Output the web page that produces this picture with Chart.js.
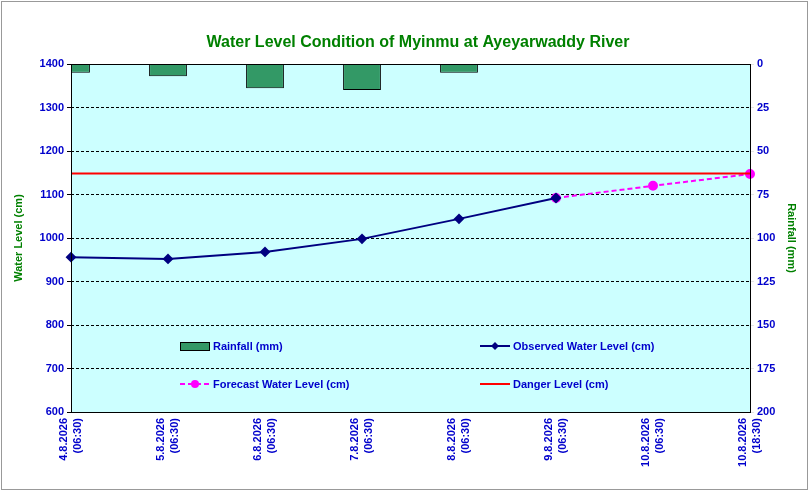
<!DOCTYPE html>
<html>
<head>
<meta charset="utf-8">
<script src="https://cdn.jsdelivr.net/npm/chart.js@4/dist/chart.umd.min.js"></script>
<style>
  html, body { margin: 0; padding: 0; background: #fff; }
  #wrap { width: 810px; height: 492px; }
</style>
</head>
<body>
<div id="wrap"><canvas id="chart"></canvas></div>
<script>
const dates = ["4.8.2026", "5.8.2026", "6.8.2026", "7.8.2026", "8.8.2026", "9.8.2026", "10.8.2026", "10.8.2026"];
const times = ["(06:30)", "(06:30)", "(06:30)", "(06:30)", "(06:30)", "(06:30)", "(06:30)", "(18:30)"];
const rainfall = [5, 7, 14, 15, 5, null, null, null];
const observed = [956, 952, 968, 998, 1044, 1092, null, null];
const forecast = [null, null, null, null, null, 1092, 1120, 1147];
const danger = [1148, 1148, 1148, 1148, 1148, 1148, 1148, 1148];

const blue = "#0000cc";
const green = "#008000";
const font = "Liberation Sans, Arial, sans-serif";

const decor = {
  id: "decor",
  beforeDraw(chart) {
    const c = chart.ctx, a = chart.chartArea;
    c.save();
    c.fillStyle = "#ccffff";
    c.fillRect(a.left, a.top, a.right - a.left, a.bottom - a.top);
    c.restore();
  },
  afterDraw(chart) {
    const c = chart.ctx, a = chart.chartArea;
    c.save();
    c.strokeStyle = "#000";
    c.lineWidth = 1;
    c.strokeRect(a.left + 0.5, a.top + 0.5, a.right - a.left, a.bottom - a.top);
    c.strokeStyle = "#999";
    c.strokeRect(1.5, 1.5, 806, 488);

    // title
    c.fillStyle = green;
    c.font = "bold 16px " + font;
    c.textAlign = "center";
    c.textBaseline = "middle";
    c.fillText("Water Level Condition of Myinmu at Ayeyarwaddy River", 418, 43);

    // axis titles
    c.font = "bold 11px " + font;
    c.save(); c.translate(19, 238); c.rotate(-Math.PI / 2); c.fillText("Water Level (cm)", 0, 0); c.restore();
    c.save(); c.translate(791, 238); c.rotate(Math.PI / 2); c.fillText("Rainfall (mm)", 0, 0); c.restore();

    // x labels
    const xs = chart.scales.x;
    c.fillStyle = blue;
    c.font = "bold 11px " + font;
    c.textAlign = "right";
    dates.forEach((d, i) => {
      const x = xs.getPixelForValue(i);
      c.save();
      c.translate(x, 418);
      c.rotate(-Math.PI / 2);
      c.fillText(d, 0, -7);
      c.fillText(times[i], 0, 7);
      c.restore();
    });

    // legend
    c.font = "bold 11px " + font;
    c.textAlign = "left";
    c.fillStyle = "#339966";
    c.fillRect(180, 342, 29, 8);
    c.strokeStyle = "#000";
    c.strokeRect(180.5, 342.5, 29, 8);
    c.fillStyle = blue;
    c.fillText("Rainfall (mm)", 213, 347);

    c.strokeStyle = "#000080"; c.lineWidth = 2;
    c.beginPath(); c.moveTo(480, 346); c.lineTo(510, 346); c.stroke();
    c.fillStyle = "#000080";
    c.beginPath(); c.moveTo(495, 342); c.lineTo(499, 346); c.lineTo(495, 350); c.lineTo(491, 346); c.closePath(); c.fill();
    c.fillStyle = blue;
    c.fillText("Observed Water Level (cm)", 513, 347);

    c.strokeStyle = "#ff00ff"; c.setLineDash([5, 3]);
    c.beginPath(); c.moveTo(180, 384); c.lineTo(209, 384); c.stroke();
    c.setLineDash([]);
    c.fillStyle = "#ff00ff";
    c.beginPath(); c.arc(195, 384, 4, 0, Math.PI * 2); c.fill();
    c.fillStyle = blue;
    c.fillText("Forecast Water Level (cm)", 213, 385);

    c.strokeStyle = "#ff0000";
    c.beginPath(); c.moveTo(480, 384); c.lineTo(510, 384); c.stroke();
    c.fillStyle = blue;
    c.fillText("Danger Level (cm)", 513, 385);
    c.restore();
  }
};

new Chart(document.getElementById("chart"), {
  type: "bar",
  data: {
    labels: dates.map((d, i) => d + " " + times[i]),
    datasets: [
      { type: "line", data: danger, borderColor: "#ff0000", borderWidth: 2, pointRadius: 0, yAxisID: "y", order: 1 },
      { type: "line", data: forecast, borderColor: "#ff00ff", borderWidth: 2, borderDash: [5, 3],
        pointRadius: 4, pointBackgroundColor: "#ff00ff", pointBorderColor: "#ff00ff", yAxisID: "y", order: 1 },
      { type: "line", data: observed, borderColor: "#000080", borderWidth: 2, pointStyle: "rectRot",
        pointRadius: 4, pointBackgroundColor: "#000080", pointBorderColor: "#000080", yAxisID: "y", order: 0 },
      { type: "bar", data: rainfall, backgroundColor: "#339966", borderColor: "#000", borderWidth: 1,
        barPercentage: 0.39, categoryPercentage: 1, yAxisID: "y2", order: 2 }
    ]
  },
  options: {
    responsive: true,
    maintainAspectRatio: false,
    animation: false,
    layout: { padding: { top: 64, left: 0, right: 0, bottom: 0 } },
    plugins: { legend: { display: false }, tooltip: { enabled: false } },
    scales: {
      x: {
        offset: false,
        grid: { display: false },
        border: { display: false },
        ticks: { display: false },
        afterFit(s) { s.height = 80; }
      },
      y: {
        position: "left", min: 600, max: 1400,
        ticks: { stepSize: 100, color: blue, font: { family: font, size: 11, weight: "bold" }, callback: v => String(v) },
        grid: { color: "#000", tickLength: 4 },
        border: { display: false, dash: [3, 2] },
        afterFit(s) { s.width = 71; }
      },
      y2: {
        position: "right", min: 0, max: 200, reverse: true,
        ticks: { stepSize: 25, color: blue, font: { family: font, size: 11, weight: "bold" }, callback: v => String(v) },
        grid: { drawOnChartArea: false, tickLength: 4 },
        border: { display: false },
        afterFit(s) { s.width = 60; }
      }
    }
  },
  plugins: [decor]
});
</script>
</body>
</html>
